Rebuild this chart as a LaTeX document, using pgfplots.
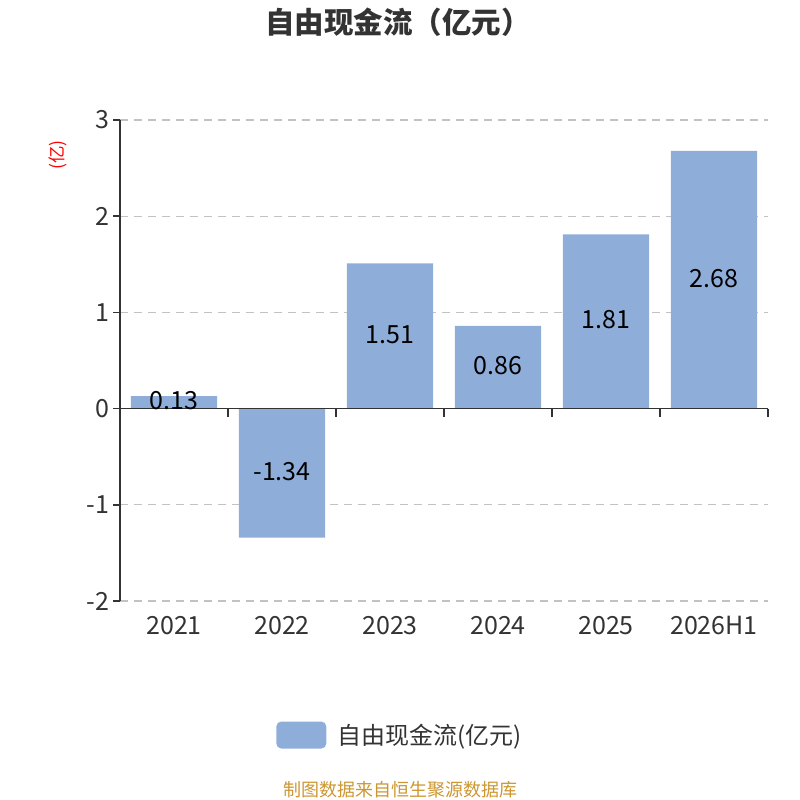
\documentclass[border=0pt]{standalone}
\usepackage{fontspec}
\setmainfont{Noto Sans CJK SC}
\usepackage{pgfplots}
\pgfplotsset{compat=1.18}
\usepackage{pgfplotstable}
\definecolor{barc}{RGB}{142,173,217}
\definecolor{txt}{RGB}{51,51,51}
\definecolor{foot}{RGB}{204,150,48}
\pgfplotstableread{
x v
0 0.13
1 -1.34
2 1.51
3 0.86
4 1.81
5 2.68
}\datatable
\begin{document}
\begin{tikzpicture}
\path[use as bounding box] (0pt,0pt) rectangle (800pt,-800pt);
\begin{axis}[
  at={(120pt,-601pt)}, anchor=south west,
  scale only axis, width=648pt, height=481pt,
  xmin=-0.5, xmax=5.5, ymin=-2, ymax=3,
  axis x line*=bottom, axis y line*=left,
  ytick={-2,-1,0,1,2,3},
  xtick={0,1,2,3,4,5},
  xticklabels={2021,2022,2023,2024,2025,2026H1},
  ymajorgrids,
  major grid style={color=black!24, dash pattern=on 8pt off 6pt, line width=1.2pt},
  y axis line style={color=txt, line width=1.6pt, -},
  x axis line style={draw=none},
  tick align=outside, major tick length=7pt,
  ytick style={color=txt, line width=1.6pt},
  xtick style={draw=none},
  tick label style={font=\fontsize{25}{29}\selectfont, text=txt},
  xticklabel style={yshift=-5pt},
  /pgf/number format/assume math mode=true,
  clip=false,
  legend style={at={(0.432,-0.2786)}, anchor=center, draw=none, fill=none,
    font=\fontsize{24}{28}\selectfont, text=txt},
  legend image code/.code={\fill[barc, rounded corners=5pt] (0pt,-13pt) rectangle (50pt,14pt);
    \path (59pt,0pt);},
]
\addplot[ybar, bar width=0.8, fill=barc, draw=none] table[x=x, y=v]{\datatable};
\addlegendentry{自由现金流(亿元)}
\addplot[draw=none, mark=none, forget plot, nodes near coords, point meta=explicit symbolic,
  nodes near coords style={anchor=center, yshift=1.5pt, font=\fontsize{25}{29}\selectfont, text=black}]
  table[x=x, y expr=\thisrow{v}/2, meta=v]{\datatable};
\draw[txt, line width=1.6pt] (axis cs:-0.5,0) -- (axis cs:5.5,0);
\pgfplotsinvokeforeach{0.5,1.5,2.5,3.5,4.5,5.5}{\draw[txt, line width=1.6pt] (axis cs:#1,0) -- ++(0pt,-8pt);}
\end{axis}
\node[font=\fontsize{29.5}{33}\selectfont\bfseries, text=txt] at (398pt,-22pt) {自由现金流（亿元）};
\node[font=\fontsize{17.5}{20}\selectfont, text=red, rotate=90] at (58pt,-155pt) {(亿)};
\node[font=\fontsize{18}{22}\selectfont, text=foot] at (400pt,-790pt) {制图数据来自恒生聚源数据库};
\end{tikzpicture}
\end{document}
